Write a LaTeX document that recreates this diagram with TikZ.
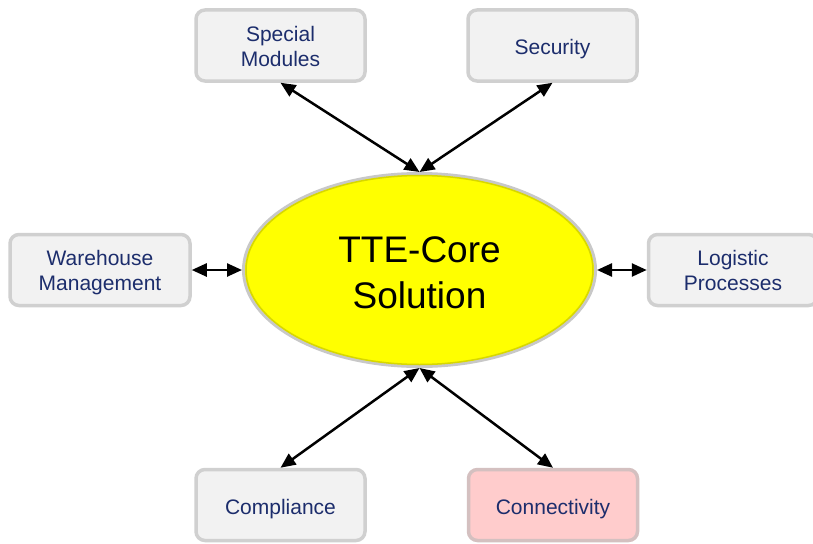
\documentclass[tikz,border=0pt]{standalone}
\usepackage{fontspec}
\setmainfont{Liberation Sans}
\usetikzlibrary{shapes.geometric}
\usetikzlibrary{arrows.meta}

\definecolor{boxfill}{RGB}{242,242,242}
\definecolor{boxline}{RGB}{208,208,208}
\definecolor{boxtext}{RGB}{28,45,108}
\definecolor{pinkfill}{RGB}{255,204,204}
\definecolor{pinkline}{RGB}{212,192,192}
\definecolor{corefill}{RGB}{255,255,0}
\definecolor{coreline}{RGB}{200,200,200}
\definecolor{coreedge}{RGB}{215,215,0}

\begin{document}
\begin{tikzpicture}[x=1pt, y=-1pt,
    modbox/.style={draw=boxline, fill=boxfill, line width=3.5pt, rounded corners=9pt,
        minimum width=169pt, minimum height=71pt, inner sep=0pt, align=center,
        text=boxtext, font=\fontsize{21}{25}\selectfont},
    oneline/.style={text height=19pt, text depth=0pt},
    twoline/.style={text height=41.5pt, text depth=0pt},
    corenode/.style={ellipse, draw=coreline, fill=corefill, line width=3pt,
        minimum width=352pt, minimum height=193pt, inner sep=0pt, align=center,
        text height=76pt, text depth=0pt, font=\fontsize{37}{46}\selectfont},
    link/.style={line width=2.5pt, {Triangle[length=15pt,width=13pt]}-{Triangle[length=15pt,width=13pt]}}]
        \clip (0,0) rectangle (813,543);
        \fill [white] (0,0) rectangle (813,543);
        \node [corenode] (core) at (419.5, 270) {TTE-Core\\Solution};
        \draw [coreedge, line width=1.5pt] (core.center) ellipse [x radius=173.5, y radius=94.5];
        \node [modbox, twoline] (special) at (280.5, 45.5) {Special\\Modules};
        \node [modbox, oneline] (security) at (552.5, 45.5) {Security};
        \node [modbox, twoline, minimum width=180pt] (warehouse) at (100, 270) {Warehouse\\Management};
        \node [modbox, twoline] (logistic) at (733, 270) {Logistic\\Processes};
        \node [modbox, oneline] (compliance) at (280.5, 505) {Compliance};
        \node [modbox, oneline, fill=pinkfill, draw=pinkline] (connectivity) at (553, 505) {Connectivity};
        \foreach \m/\a/\b in {special/south/north, security/south/north,
            warehouse/east/west, logistic/west/east,
            compliance/north/south, connectivity/north/south}
            \draw [link] (\m.\a) -- (core.\b);
    \end{tikzpicture}
\end{document}
